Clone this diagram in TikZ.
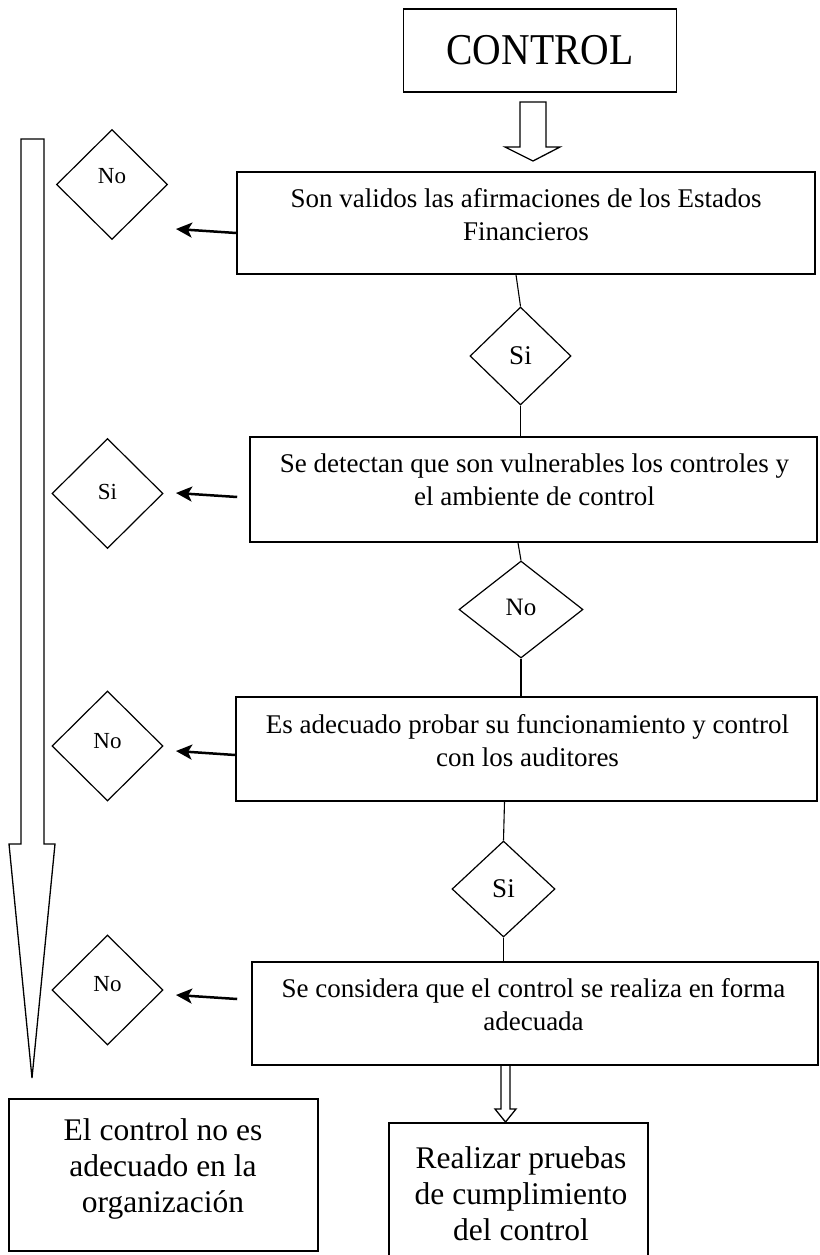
\documentclass[tikz,border=0pt]{standalone}
\usepackage{fontspec}
\setmainfont{Liberation Serif}
\usetikzlibrary{shapes.geometric,arrows.meta,calc}
\begin{document}
\begin{tikzpicture}[x=1pt,y=-1pt,
  procbox/.style={draw, line width=1.6pt, rectangle, inner sep=0pt},
  boxtext/.style={inner sep=0pt, align=center, font=\fontsize{27}{33}\selectfont},
  bigtext/.style={inner sep=0pt, align=center, font=\fontsize{31.5}{36}\selectfont},
  dec/.style={draw, diamond, line width=1.2pt, inner sep=0pt},
  sidedec/.style={dec, minimum width=111pt, minimum height=110pt, font=\fontsize{23}{27}\selectfont},
  link/.style={line width=1.1pt},
  sidearrow/.style={line width=2.5pt, -{Stealth[length=16pt,width=15pt,inset=4pt]}},
  hollow/.style={draw, line width=1.3pt, line join=miter},
]
\useasboundingbox (0,0) rectangle (819,1255);

% title box
\node[procbox, minimum width=273pt, minimum height=83pt, font=\fontsize{44}{50}\selectfont] (ctrl) at (540,50.5) {\scalebox{0.9}[1]{CONTROL}};

% process boxes
\node[procbox, minimum width=578pt, minimum height=102pt] (b1) at (526,223) {};
\node[boxtext] (t1) at (526,214.3) {Son validos las afirmaciones de los Estados\\Financieros};
\node[procbox, minimum width=567pt, minimum height=105pt] (b2) at (533.5,489.5) {};
\node[boxtext] (t2) at (534.5,479.3) {Se detectan que son vulnerables los controles y\\el ambiente de control};
\node[procbox, minimum width=581pt, minimum height=104pt] (b3) at (526.5,749) {};
\node[boxtext] (t3) at (527.5,740.3) {Es adecuado probar su funcionamiento y control\\con los auditores};
\node[procbox, minimum width=566pt, minimum height=103pt] (b4) at (535,1013.5) {};
\node[boxtext] (t4) at (533.5,1004.3) {Se considera que el control se realiza en forma\\adecuada};

% result boxes
\node[procbox, minimum width=309pt, minimum height=152pt] (b5) at (163.5,1175) {};
\node[bigtext] (t5) at (163,1168.7) {El control no es\\adecuado en la\\organización};
\node[procbox, minimum width=259pt, minimum height=140pt] (b6) at (518.5,1193) {};
\node[bigtext] (t6) at (521,1194) {Realizar pruebas\\de cumplimiento\\del control};

% central decisions
\node[dec, minimum width=101pt, minimum height=98pt, font=\fontsize{27}{30}\selectfont] (c1) at (520.5,356) {Si};
\node[dec, minimum width=124pt, minimum height=97pt, font=\fontsize{25}{30}\selectfont, text depth=4pt] (c2) at (521,609.5) {No};
\node[dec, minimum width=103pt, minimum height=96pt, font=\fontsize{27}{30}\selectfont] (c3) at (503.5,889) {Si};

% side decisions
\node[sidedec, text depth=17pt] (d1) at (112,184.5) {No};
\node[sidedec, text depth=4pt] (d2) at (107.5,493.5) {Si};
\node[sidedec, text depth=11pt] (d3) at (107.5,746) {No};
\node[sidedec, text depth=12pt] (d4) at (107.5,990) {No};

% thin connectors
\draw[link] ($(b1.south)+(-10,0)$) -- (c1.north);
\draw[link] (c1.south) -- (c1.south |- b2.north);
\draw[link] ($(b2.south)+(-15.5,0)$) -- (c2.north);
\draw[link] (c2.south) -- (c2.south |- b3.north);
\draw[link] ($(b3.south)+(-22,0)$) -- (c3.north);
\draw[link] (c3.south) -- (c3.south |- b4.north);

% side arrows
\coordinate (e1) at (176,229);
\coordinate (e2) at (176,493);
\coordinate (e3) at (176,751);
\coordinate (e4) at (176,995);
\coordinate (s2) at ($(b2.west)+(-12,7.5)$);
\coordinate (s4) at ($(b4.west)+(-14,-14.5)$);
\draw[sidearrow] ($(b1.west)+(0,10)$) -- (e1);
\draw[sidearrow] (s2) -- (e2);
\draw[sidearrow] ($(b3.west)+(0,6)$) -- (e3);
\draw[sidearrow] (s4) -- (e4);

% hollow block arrows
\draw[hollow] (520,102) -- (520,147) -- (505,147) -- (533,161) -- (560,147) -- (546,147) -- (546,102) -- cycle;
\draw[hollow] (501,1065) -- (501,1109) -- (495,1109) -- (505.5,1122) -- (516,1109) -- (510,1109) -- (510,1065);
\draw[hollow] (21,139) -- (21,844) -- (9,844) -- (32,1078) -- (55,844) -- (44,844) -- (44,139) -- cycle;
\end{tikzpicture}
\end{document}
